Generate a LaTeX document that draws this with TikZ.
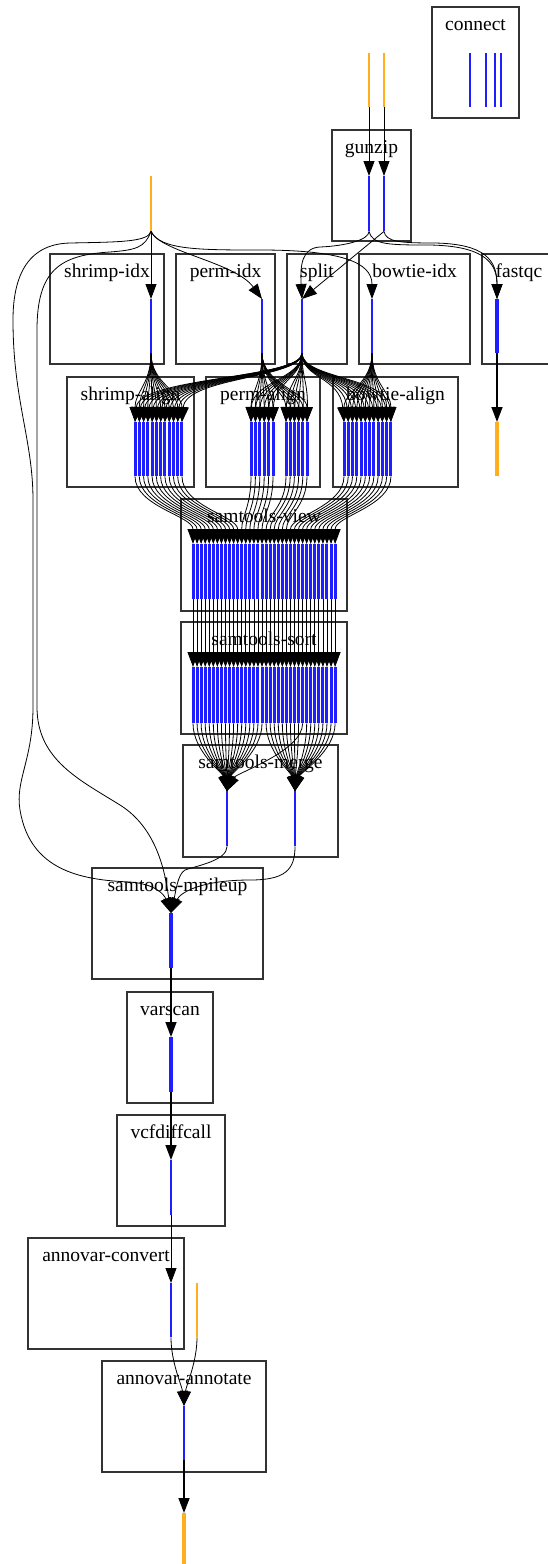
\documentclass[tikz,border=0pt]{standalone}
\usepackage{fontspec}
\setmainfont{Liberation Serif}
\usetikzlibrary{arrows.meta, positioning, fit, calc}
\definecolor{jobblue}{RGB}{30,30,255}
\definecolor{fileorange}{RGB}{255,175,30}

\begin{document}
\begin{tikzpicture}[
    x=1pt, y=-1pt,
    cluster/.style={
        draw=black!80, line width=1.2pt, inner sep=0pt
    },
    clabel/.style={
        font=\fontsize{19.5}{20}\selectfont, anchor=base, inner sep=0pt
    },
    job/.style={
        rectangle, fill=jobblue, inner sep=0pt, anchor=north,
        minimum width=2.6, minimum height=55
    },
    datafile/.style={job, fill=fileorange},
    arr/.style={line width=0.8pt, -{Triangle[length=15pt, width=11pt]}},
]
\useasboundingbox (0,0) rectangle (547,1564);

% ============ Clusters ============
\node[cluster, fit={(432,7) (519,118)}] (connect) {};
\node[clabel] at ($(connect.north)+(0,24)$) {connect};
\node[cluster, fit={(332,130) (411,241)}] (gunzip) {};
\node[clabel] at ($(gunzip.north)+(0,24)$) {gunzip};

\node[cluster, fit={(50,254) (164,364)}] (shrimpidx) {};
\node[clabel] at ($(shrimpidx.north)+(0,24)$) {shrimp-idx};
\node[cluster, fit={(176,254) (275,364)}] (permidx) {};
\node[clabel] at ($(permidx.north)+(0,24)$) {perm-idx};
\node[cluster, fit={(287,254) (347,364)}] (split) {};
\node[clabel] at ($(split.north)+(0,24)$) {split};
\node[cluster, fit={(359,254) (470,364)}] (bowtieidx) {};
\node[clabel] at ($(bowtieidx.north)+(0,24)$) {bowtie-idx};
\node[cluster, fit={(482,254) (556,364)}] (fastqc) {};
\node[clabel] at ($(fastqc.north)+(0,24)$) {fastqc};

\node[cluster, fit={(67,377) (194,487)}] (shrimpalign) {};
\node[clabel] at ($(shrimpalign.north)+(0,24)$) {shrimp-align};
\node[cluster, fit={(206,377) (320,487)}] (permalign) {};
\node[clabel] at ($(permalign.north)+(0,24)$) {perm-align};
\node[cluster, fit={(333,377) (458,487)}] (bowtiealign) {};
\node[clabel] at ($(bowtiealign.north)+(0,24)$) {bowtie-align};

\node[cluster, fit={(181,499) (347,611)}] (samview) {};
\node[clabel] at ($(samview.north)+(0,24)$) {samtools-view};
\node[cluster, fit={(181,622) (347,734)}] (samsort) {};
\node[clabel] at ($(samsort.north)+(0,24)$) {samtools-sort};
\node[cluster, fit={(183,745) (338,857)}] (sammerge) {};
\node[clabel] at ($(sammerge.north)+(0,24)$) {samtools-merge};
\node[cluster, fit={(92,868) (263,979)}] (mpileup) {};
\node[clabel] at ($(mpileup.north)+(0,24)$) {samtools-mpileup};
\node[cluster, fit={(127,992) (213,1103)}] (varscan) {};
\node[clabel] at ($(varscan.north)+(0,24)$) {varscan};
\node[cluster, fit={(117,1115) (225,1226)}] (vcfdiff) {};
\node[clabel] at ($(vcfdiff.north)+(0,24)$) {vcfdiffcall};
\node[cluster, fit={(28,1238) (184,1349)}] (avconvert) {};
\node[clabel] at ($(avconvert.north)+(0,24)$) {annovar-convert};
\node[cluster, fit={(102,1361) (266,1472)}] (avannotate) {};
\node[clabel] at ($(avannotate.north)+(0,24)$) {annovar-annotate};

% ============ Jobs and files ============
\foreach \xx [count=\i] in {470,486,495,501}
    \node[job, minimum width=2.4, minimum height=54] (leg\i) at (\xx,53) {};

\node[datafile] (reads) at (151,176) {};
\node[datafile, minimum height=54] (gzin1) at (369,53) {};
\node[datafile, minimum height=54] (gzin2) at (384,53) {};
\node[job] (gz1) at (369,176) {};
\node[job] (gz2) at (384,176) {};

\node[job, minimum height=54] (si) at (151,299) {};
\node[job, minimum height=54] (pi) at (262,299) {};
\node[job, minimum height=54] (sp) at (302,299) {};
\node[job, minimum height=54] (bi) at (372,299) {};
\node[job, minimum height=54, minimum width=3.4] (fq) at (497,299) {};
\node[datafile, minimum height=54, minimum width=3.6] (fqout) at (497,422) {};

\foreach \j in {1,...,12} {
    \pgfmathsetmacro\xx{135+(\j-1)*4.27}
    \node[job, minimum width=3, minimum height=54] (sa\j) at (\xx,422) {};
    \pgfmathsetmacro\xx{344+(\j-1)*4.27}
    \node[job, minimum width=3, minimum height=54] (ba\j) at (\xx,422) {};
    \pgfmathsetmacro\xx{\j<=6 ? 251+(\j-1)*4.4 : 286+(\j-7)*4.2}
    \node[job, minimum width=3, minimum height=54] (pa\j) at (\xx,422) {};
}

\foreach \k in {1,...,36} {
    \pgfmathsetmacro\xx{193+(\k-1)*4.06}
    \node[job, minimum width=3] (v\k) at (\xx,544) {};
    \node[job, minimum width=3, minimum height=56] (s\k) at (\xx,667) {};
}

\node[job] (m1) at (227,791) {};
\node[job] (m2) at (295,791) {};
\node[job, minimum width=3.4] (mp) at (171,913) {};
\node[job, minimum width=3.4] (vs) at (171,1037) {};
\node[job] (vc) at (171,1160) {};
\node[job, minimum height=54] (ac) at (171,1283) {};
\node[datafile, minimum height=54] (dbfile) at (197,1283) {};
\node[job, minimum height=54] (aa) at (184,1406) {};
\node[datafile, minimum height=60, minimum width=3.8] (result) at (184,1513) {};

% ============ Arrows ============
\draw[arr] (gzin1.south) -- (gz1.north);
\draw[arr] (gzin2.south) -- (gz2.north);

% reads into the index jobs
\draw[arr] (reads.south) -- (si.north);
\draw[arr] (reads.south) .. controls (160,252) and (235,262) .. (pi.north);
\draw[arr] (reads.south) .. controls (160,250) and (200,250) .. (260,250)
    .. controls (340,250) and (372,262) .. (bi.north);

% reads down the left side to mpileup
\draw[arr] (reads.south) .. controls (148,242) and (120,242) .. (70,243)
    .. controls (25,244) and (13,280) .. (13,320)
    .. controls (13,400) and (33,440) .. (33,500) -- (33,707)
    .. controls (33,760) and (15,780) .. (20,810)
    .. controls (30,870) and (80,880) .. (130,882)
    .. controls (155,884) and (164,894) .. (mp.north);
\draw[arr] (reads.south) .. controls (145,248) and (135,250) .. (110,252)
    .. controls (60,255) and (37,270) .. (37,330) -- (37,707)
    .. controls (37,760) and (80,780) .. (120,805)
    .. controls (160,830) and (166,880) .. (mp.north);

% gunzip outputs
\draw[arr] (gz1.south) .. controls (369,240) and (345,246) .. (320,247)
    .. controls (302,248) and (300,265) .. (sp.north);
\draw[arr] (gz2.south) -- (sp.north);
\draw[arr] (gz1.south) .. controls (372,245) and (390,245) .. (430,245)
    .. controls (480,246) and (497,260) .. (fq.north);
\draw[arr] (gz2.south) .. controls (386,242) and (400,243) .. (435,243)
    .. controls (485,244) and (497,260) .. (fq.north);
\draw[arr, line width=1.4pt] (fq.south) -- (fqout.north);

% index and split jobs into the aligners
\foreach \j in {1,...,12} {
    \draw[arr] (si.south) .. controls +(0,30) and +(0,-30) .. (sa\j.north);
    \draw[arr] (pi.south) .. controls +(0,30) and +(0,-30) .. (pa\j.north);
    \draw[arr] (bi.south) .. controls +(0,30) and +(0,-30) .. (ba\j.north);
    \draw[arr] (sp.south) .. controls +(0,25) and +(4,-45) .. (sa\j.north);
    \draw[arr] (sp.south) .. controls +(0,25) and +(1,-40) .. (pa\j.north);
    \draw[arr] (sp.south) .. controls +(0,25) and +(-4,-45) .. (ba\j.north);
}

% aligners into samtools-view
\foreach \j in {1,...,12} {
    \pgfmathtruncatemacro\kp{\j+12}
    \pgfmathtruncatemacro\kb{\j+24}
    \draw[arr] (sa\j.south) .. controls +(0,30) and +(0,-28) .. (v\j.north);
    \draw[arr] (pa\j.south) .. controls +(0,30) and +(0,-28) .. (v\kp.north);
    \draw[arr] (ba\j.south) .. controls +(0,30) and +(0,-28) .. (v\kb.north);
}

% view -> sort -> merge
\foreach \k in {1,...,36} {
    \draw[arr] (v\k.south) -- (s\k.north);
    \pgfmathtruncatemacro\tgt{(\k<=18 || \k==28) ? 1 : 2}
    \pgfmathsetmacro\dx{0.12*(193+(\k-1)*4.06-(\tgt==1 ? 227 : 295))}
    \draw[arr] (s\k.south) .. controls +(0,28) and +(\dx,-18) .. (m\tgt.north);
}

% merge into mpileup
\draw[arr] (m1.south) .. controls (227,860) and (200,865) .. (185,870)
    .. controls (178,874) and (176,890) .. (mp.north);
\draw[arr] (m2.south) .. controls (295,870) and (285,880) .. (250,880)
    .. controls (200,880) and (180,893) .. (mp.north);

% variant calling and annotation
\draw[arr, line width=1.4pt] (mp.south) -- (vs.north);
\draw[arr, line width=1.4pt] (vs.south) -- (vc.north);
\draw[arr] (vc.south) -- (ac.north);
\draw[arr] (ac.south) .. controls +(0,25) and +(-2,-20) .. (aa.north);
\draw[arr] (dbfile.south) .. controls +(0,25) and +(2,-20) .. (aa.north);
\draw[arr, line width=1.4pt] (aa.south) -- (result.north);

\end{tikzpicture}
\end{document}
